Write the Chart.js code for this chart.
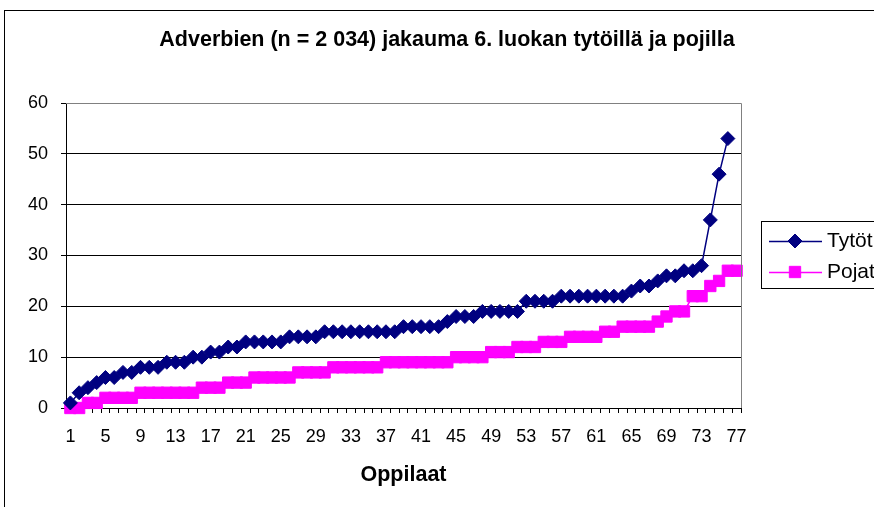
<!DOCTYPE html>
<html>
<head>
<meta charset="utf-8">
<script src="https://cdn.jsdelivr.net/npm/chart.js@4.4.0/dist/chart.umd.min.js"></script>
<style>
  body { margin: 0; background: #fff; }
</style>
</head>
<body>
<canvas id="oppilaat_chart" width="874" height="507"></canvas>
<script>
// ------------------ Data ------------------
const chart_title = "Adverbien (n = 2 034) jakauma 6. luokan tytöillä ja pojilla";
const x_title = "Oppilaat";

const oppilaat = [1, 2, 3, 4, 5, 6, 7, 8, 9, 10, 11, 12, 13, 14, 15, 16, 17, 18, 19, 20,
    21, 22, 23, 24, 25, 26, 27, 28, 29, 30, 31, 32, 33, 34, 35, 36, 37, 38, 39, 40,
    41, 42, 43, 44, 45, 46, 47, 48, 49, 50, 51, 52, 53, 54, 55, 56, 57, 58, 59, 60,
    61, 62, 63, 64, 65, 66, 67, 68, 69, 70, 71, 72, 73, 74, 75, 76, 77];
const x_tick_labels = [1, 5, 9, 13, 17, 21, 25, 29, 33, 37, 41, 45, 49, 53, 57, 61, 65, 69, 73, 77];
const y_ticks = [0, 10, 20, 30, 40, 50, 60];

const tytot = [1, 3, 4, 5, 6, 6, 7, 7, 8, 8, 8, 9, 9, 9, 10, 10, 11, 11, 12, 12,
    13, 13, 13, 13, 13, 14, 14, 14, 14, 15, 15, 15, 15, 15, 15, 15, 15, 15, 16, 16,
    16, 16, 16, 17, 18, 18, 18, 19, 19, 19, 19, 19, 21, 21, 21, 21, 22, 22, 22, 22,
    22, 22, 22, 22, 23, 24, 24, 25, 26, 26, 27, 27, 28, 37, 46, 53];
const pojat = [0, 0, 1, 1, 2, 2, 2, 2, 3, 3, 3, 3, 3, 3, 3, 4, 4, 4, 5, 5,
    5, 6, 6, 6, 6, 6, 7, 7, 7, 7, 8, 8, 8, 8, 8, 8, 9, 9, 9, 9,
    9, 9, 9, 9, 10, 10, 10, 10, 11, 11, 11, 12, 12, 12, 13, 13, 13, 14, 14, 14,
    14, 15, 15, 16, 16, 16, 16, 17, 18, 19, 19, 22, 22, 24, 25, 27, 27];

const font_family = "'Liberation Sans', Arial, sans-serif";

// ------------------ Plugin For Frame, Title And Legend ------------------
const excel_frame = {
    id: "excel_frame",
    afterDraw(chart) {
        const ctx = chart.ctx;
        const area = chart.chartArea;
        ctx.save();

        // outer border of the chart
        ctx.strokeStyle = "#000";
        ctx.lineWidth = 1;
        ctx.strokeRect(4.5, 10.5, 1000, 1000);

        // grey plot border top and right
        ctx.strokeStyle = "#808080";
        ctx.beginPath();
        ctx.moveTo(area.left, area.top + 0.5);
        ctx.lineTo(area.right + 0.5, area.top + 0.5);
        ctx.lineTo(area.right + 0.5, area.bottom);
        ctx.stroke();

        // title
        ctx.fillStyle = "#000";
        ctx.font = "bold 21.5px " + font_family;
        ctx.textAlign = "center";
        ctx.textBaseline = "middle";
        ctx.fillText(chart_title, 447, 40);

        // legend
        ctx.fillStyle = "#fff";
        ctx.strokeStyle = "#000";
        ctx.fillRect(761.5, 221.5, 200, 67);
        ctx.strokeRect(761.5, 221.5, 200, 67);
        const rows = [241, 272];
        chart.data.datasets.forEach((ds, i) => {
            const y = rows[i];
            ctx.strokeStyle = ds.borderColor;
            ctx.fillStyle = ds.backgroundColor;
            ctx.lineWidth = 1.5;
            ctx.beginPath();
            ctx.moveTo(769, y + 0.5);
            ctx.lineTo(822, y + 0.5);
            ctx.stroke();
            ctx.lineWidth = 1;
            Chart.helpers.drawPoint(ctx, { pointStyle: ds.pointStyle, radius: ds.pointRadius, rotation: 0, borderWidth: 1 }, 795, y);
            ctx.fillStyle = "#000";
            ctx.font = "21px " + font_family;
            ctx.textAlign = "left";
            ctx.fillText(ds.label, 827, y);
        });

        ctx.restore();
    }
};

// ------------------ The Chart ------------------
const ctx = document.getElementById("oppilaat_chart").getContext("2d");
const myChart = new Chart(ctx, {
    type: "line",
    data: {
        labels: oppilaat,
        datasets: [{
            label: "Tytöt",
            data: tytot,
            borderColor: "#000080",
            backgroundColor: "#000080",
            borderWidth: 1.5,
            pointStyle: "rectRot",
            pointRadius: 7,
            pointBorderWidth: 1,
            clip: false,
        }, {
            label: "Pojat",
            data: pojat,
            borderColor: "#FF00FF",
            backgroundColor: "#FF00FF",
            borderWidth: 1.5,
            pointStyle: "rect",
            pointRadius: 8,
            pointBorderWidth: 1,
            clip: false,
        }],
    },
    options: {
        responsive: false,
        animation: false,
        events: [],
        layout: { padding: { top: 103, left: 10, right: 133, bottom: 19 } },
        plugins: {
            legend: { display: false },
            title: { display: false },
            tooltip: { enabled: false },
        },
        scales: {
            x: {
                offset: true,
                ticks: {
                    autoSkip: false,
                    maxRotation: 0,
                    color: "#000",
                    font: { size: 18, family: font_family },
                    padding: 13,
                    callback: function (value, index) {
                        return x_tick_labels.includes(oppilaat[index]) ? oppilaat[index] : "";
                    },
                },
                grid: { drawOnChartArea: false, offset: true, tickLength: 5, tickColor: "#000" },
                border: { color: "#000" },
                title: {
                    display: true,
                    text: x_title,
                    color: "#000",
                    font: { size: 21.5, weight: "bold", family: font_family },
                    padding: { top: 0, bottom: 0 },
                },
                afterFit(scale) { scale.height = 80; },
            },
            y: {
                min: y_ticks[0],
                max: y_ticks[y_ticks.length - 1],
                afterBuildTicks(scale) { scale.ticks = y_ticks.map((v) => ({ value: v })); },
                ticks: {
                    color: "#000",
                    font: { size: 18, family: font_family },
                    padding: 13,
                },
                grid: {
                    color: (c) => (c.tick && c.tick.value === 60 ? "#808080" : "#000"),
                    tickLength: 5,
                    tickColor: "#000",
                },
                border: { color: "#000" },
                afterFit(scale) { scale.width = 56; },
            },
        },
    },
    plugins: [excel_frame],
});
</script>
</body>
</html>
